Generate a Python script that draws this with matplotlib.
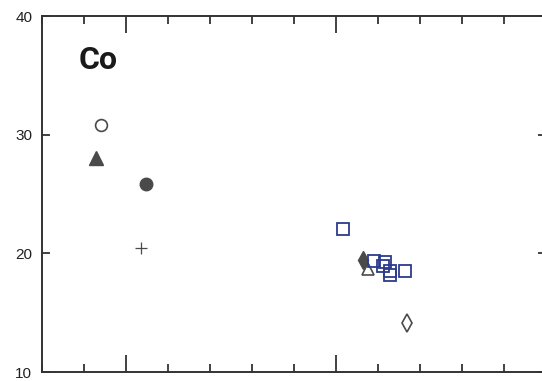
import matplotlib
matplotlib.use('Agg')
import matplotlib.pyplot as plt
from matplotlib.ticker import MultipleLocator

plt.rcParams['font.family'] = ['Liberation Sans', 'DejaVu Sans']

# sample groups (x, Co)
sq_x = [50.33, 51.81, 52.33, 52.24, 52.57, 52.57, 53.29]
sq_y = [22.05, 19.35, 19.27, 18.93, 18.51, 18.17, 18.51]
fdia_x, fdia_y = [51.29], [19.44]
otri_x, otri_y = [51.52], [18.68]
odia_x, odia_y = [53.38], [14.13]
ftri_x, ftri_y = [38.57], [28.03]
ocir_x, ocir_y = [38.81], [30.81]
fcir_x, fcir_y = [40.95], [25.84]
plus_x, plus_y = [40.71], [20.45]

fig = plt.figure(figsize=(5.42, 3.81), dpi=100)
ax = fig.add_axes([42/542, 9/381, 504/542, 356/381])

grey = '#4a4a4a'
blue = '#2c3c8c'

ax.plot(ftri_x, ftri_y, '^', ms=10, color=grey, mec=grey)
ax.plot(ocir_x, ocir_y, 'o', ms=8.5, mfc='white', mec=grey, mew=1.2)
ax.plot(fcir_x, fcir_y, 'o', ms=9, color=grey)
ax.plot(plus_x, plus_y, '+', ms=9, color=grey, mew=0.9)
ax.plot(otri_x, otri_y, '^', ms=9, mfc='none', mec=grey, mew=1.2)
ax.plot(fdia_x, fdia_y, 'd', ms=9, color=grey)
ax.plot(sq_x, sq_y, 's', ls='none', ms=9, mfc='none', mec=blue, mew=1.3)
ax.plot(odia_x, odia_y, 'd', ms=9, mfc='white', mec=grey, mew=1.2)

ax.text(37.76, 35.5, 'Co', fontsize=23, fontweight='bold',
        family=['Roboto', 'Liberation Sans', 'DejaVu Sans'],
        color='#1a1a1a', va='baseline')

ax.set_xlim(36, 60)
ax.set_ylim(10, 40)
ax.xaxis.set_major_locator(MultipleLocator(10))
ax.xaxis.set_minor_locator(MultipleLocator(2))
ax.yaxis.set_major_locator(MultipleLocator(10))
ax.tick_params(axis='x', which='major', direction='in', length=12, width=1.3,
               top=True, bottom=True, labelbottom=False, color='#333333')
ax.tick_params(axis='x', which='minor', direction='in', length=6, width=1.3,
               top=True, bottom=True, color='#333333')
ax.tick_params(axis='y', which='major', direction='in', length=6, width=1.3,
               left=True, right=True, labelsize=11, pad=7, color='#333333',
               labelcolor='#222222')
for s in ax.spines.values():
    s.set_linewidth(1.4)
    s.set_color('#333333')

fig.savefig('out.png', dpi=100)
